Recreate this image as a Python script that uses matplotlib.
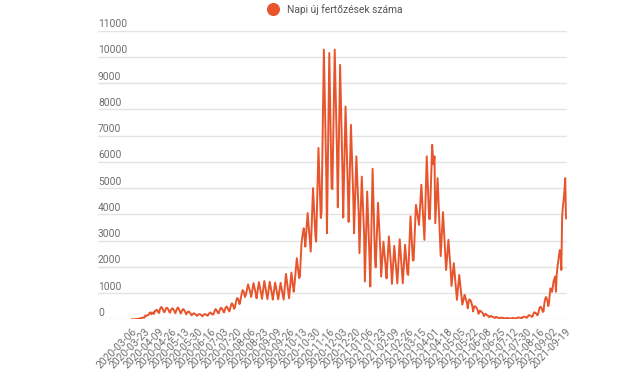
import matplotlib
matplotlib.use("Agg")
import matplotlib.pyplot as plt
from matplotlib.lines import Line2D
import matplotlib.transforms as mtransforms
import pandas as pd

plt.rcParams['font.family'] = ['Roboto', 'DejaVu Sans']

# ---- data ----
SERIES_NAME = "Napi új fertőzések száma"
FIRST_DAY = "2020-03-06"
LAST_DAY = "2021-09-19"
MISSING_DAY = "2021-07-20"   # one day has no row in the source table
TICK_EVERY = 17

# daily new cases, one row per week
daily_cases = [
    2, 0, 1, 5, 6, 4, 9,
    16, 14, 22, 37, 45, 40, 62,
    60, 66, 63, 143, 117, 143, 160,
    160, 194, 253, 264, 193, 250, 250,
    200, 305, 300, 350, 360, 330, 260,
    240, 380, 440, 470, 430, 370, 290,
    270, 350, 420, 440, 420, 360, 300,
    250, 330, 390, 420, 400, 350, 290,
    230, 320, 390, 450, 420, 360, 280,
    220, 300, 350, 390, 370, 320, 260,
    190, 240, 280, 300, 280, 240, 200,
    150, 190, 210, 230, 210, 190, 160,
    130, 160, 190, 200, 190, 170, 150,
    110, 150, 180, 200, 190, 170, 140,
    140, 190, 230, 260, 240, 210, 180,
    180, 260, 330, 390, 360, 300, 240,
    230, 320, 390, 440, 420, 370, 300,
    260, 360, 440, 490, 460, 400, 330,
    300, 430, 540, 610, 580, 500, 400,
    450, 610, 730, 810, 780, 700, 580,
    700, 870, 1010, 1110, 1080, 980, 850,
    920, 1060, 1190, 1330, 1230, 1120, 1020,
    850, 1030, 1200, 1380, 1250, 1120, 980,
    800, 1010, 1210, 1420, 1270, 1110, 960,
    780, 1010, 1230, 1460, 1290, 1120, 950,
    770, 990, 1210, 1430, 1270, 1100, 940,
    750, 970, 1180, 1400, 1240, 1080, 910,
    760, 970, 1180, 1390, 1230, 1080, 920,
    750, 1080, 1400, 1730, 1490, 1240, 1000,
    800, 1130, 1450, 1780, 1540, 1290, 1050,
    1310, 1650, 1990, 2330, 2080, 1820, 1570,
    1630, 2240, 2860, 3100, 3300, 3470, 3200,
    2770, 3200, 3650, 4050, 3680, 3300, 2940,
    2580, 3390, 4190, 5000, 4400, 3790, 3190,
    2960, 4150, 5340, 6530, 5640, 4750, 3860,
    4090, 6150, 8220, 10280, 8730, 7190, 5640,
    3280, 5570, 7860, 10150, 8430, 6720, 5000,
    4960, 6730, 8510, 10280, 8950, 7620, 6290,
    4270, 6080, 7890, 9700, 8340, 6990, 5630,
    3880, 5290, 6700, 8110, 7050, 6000, 4940,
    3710, 4940, 6180, 7410, 6490, 5560, 4640,
    3280, 4260, 5230, 6210, 5480, 4750, 4010,
    2520, 3490, 4470, 5440, 4710, 3980, 3250,
    1440, 2580, 3730, 4870, 4010, 3160, 2300,
    1250, 2750, 4240, 5740, 4620, 3500, 2370,
    1980, 2800, 3620, 4440, 3830, 3210, 2600,
    1630, 2070, 2520, 2960, 2630, 2300, 1960,
    1560, 2090, 2630, 3160, 2760, 2360, 1960,
    1350, 1830, 2320, 2800, 2440, 2080, 1710,
    1370, 1930, 2490, 3050, 2630, 2210, 1790,
    1370, 1860, 2350, 2840, 2470, 2110, 1740,
    1690, 2430, 3180, 3920, 3360, 2810, 2250,
    2240, 2950, 3650, 4360, 4200, 4000, 3800,
    3600, 4110, 4620, 5130, 4600, 4000, 3500,
    3030, 4090, 5150, 6210, 5420, 4620, 3830,
    3820, 4760, 5710, 6650, 6200, 5900, 6210,
    3660, 4230, 4810, 5380, 4640, 3900, 3150,
    2410, 2970, 3520, 4080, 3530, 2990, 2440,
    1880, 2260, 2650, 3030, 2630, 2230, 1830,
    1270, 1560, 1850, 2140, 1800, 1450, 1100,
    740, 1060, 1370, 1690, 1400, 1100, 800,
    560, 690, 810, 930, 820, 720, 620,
    420, 650, 760, 740, 700, 600, 480,
    300, 480, 500, 480, 450, 400, 330,
    210, 300, 330, 290, 280, 250, 200,
    120, 190, 210, 170, 160, 140, 110,
    80, 120, 130, 100, 95, 90, 70,
    50, 80, 90, 70, 65, 60, 45,
    35, 60, 65, 55, 50, 45, 35,
    25, 45, 50, 45, 40, 35, 30,
    20, 45, 50, 45, 40, 40, 35,
    30, 60, 70, 65, 60, 55, 45,
    40, 80, 100, 95, 90, 80, 60,
    70, 130, 160, 150, 140, 120, 90,
    120, 220, 270, 250, 240, 200, 150,
    200, 350, 440, 480, 450, 380, 280,
    300, 600, 760, 850, 800, 700, 500,
    620, 950, 1180, 1100, 1050, 1250, 1450,
    1550, 1630, 1050, 1700, 2000, 2200, 2450,
    2640, 2500, 1880, 3920, 4300, 4550, 4900,
    5380, 3850,
]
y_ticks = list(range(0, 12000, 1000))

dates = [d for d in pd.date_range(FIRST_DAY, LAST_DAY).strftime("%Y-%m-%d")
         if d != MISSING_DAY]
assert len(dates) == len(daily_cases)

LINE = "#e8552d"
GRID = "#e3e3e3"
TEXT = "#6e6e6e"

W, H = 634, 385
fig = plt.figure(figsize=(W / 100, H / 100), dpi=100)
ax = fig.add_axes([98 / W, 1 - 319.3 / H, (567 - 98) / W, (319.3 - 30.7) / H])

xs = list(range(len(dates)))
ax.plot(xs, daily_cases, color=LINE, lw=1.4, solid_joinstyle="round", zorder=3)

ax.set_xlim(-44, len(dates) + 0.3)
ax.set_ylim(0, 11000)

# gridlines with labels sitting on top of them, left aligned
lbl_tr = mtransforms.blended_transform_factory(ax.transAxes, ax.transData)
for v in y_ticks:
    ax.axhline(v, color=GRID, lw=1, zorder=1)
    ax.annotate(str(v), xy=(0, v), xycoords=lbl_tr, xytext=(0, 2.5),
                textcoords="offset points", ha="left", va="baseline",
                fontsize=7.4, color=TEXT)

ax.set_yticks([])
ax.set_xticks(xs[::TICK_EVERY])
ax.set_xticklabels(dates[::TICK_EVERY], rotation=45, ha="right",
                   rotation_mode="anchor", fontsize=7.4, color=TEXT)
ax.tick_params(axis="x", length=0, pad=5)
for s in ax.spines.values():
    s.set_visible(False)

# legend at the top
ly = 1 - 9.3 / H
fig.add_artist(Line2D([272.5 / W], [ly], marker="o", markersize=8.4, ls="none",
                      color=LINE, transform=fig.transFigure))
fig.text(287 / W, ly, SERIES_NAME, ha="left", va="center", fontsize=7.4,
         color="#555555")

fig.savefig("out.png", dpi=100)
